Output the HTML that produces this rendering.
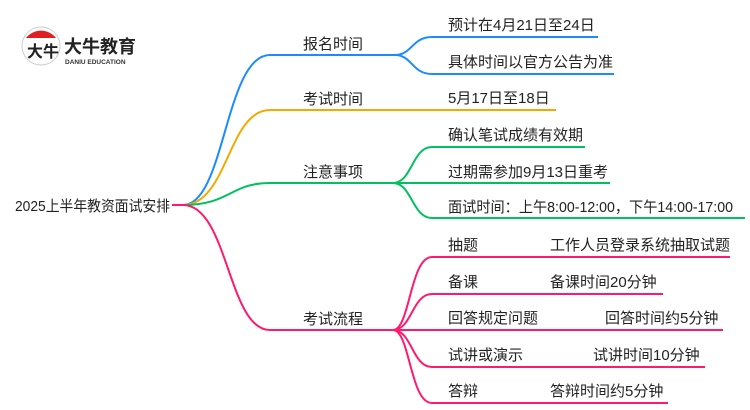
<!DOCTYPE html>
<html><head><meta charset="utf-8"><style>
html,body{margin:0;padding:0;background:#fff;}
svg{display:block;}
text{font-family:"Liberation Sans","Noto Sans CJK SC",sans-serif;font-size:15px;fill:#222;}
</style></head><body>
<svg width="750" height="410" viewBox="0 0 750 410" xmlns="http://www.w3.org/2000/svg">
<g fill="none" stroke-width="2">
<g stroke="#1a8cff">
<path d="M183,205 C225,205 225,55 270,55 L395,55"/>
<path d="M395,55 C412,55 412,37 432,37 L598,37"/>
<path d="M395,55 C412,55 412,74 432,74 L614,74"/>
</g>
<g stroke="#f5a800">
<path d="M183,205 C228,205 228,110 270,110 L556,110"/>
</g>
<g stroke="#00c060">
<path d="M183,205 C230,205 230,183 270,183 L393,183"/>
<path d="M393,183 C412,183 412,147 432,147 L585,147"/>
<path d="M393,183 L610,183"/>
<path d="M393,183 C412,183 412,218 432,218 L745,218"/>
</g>
<g stroke="#ff1a6e">
<path d="M172,205 L183,205"/>
<path d="M183,205 C228,205 228,330 270,330 L393,330"/>
<path d="M393,330 C410,330 410,257 432,257 L730,257"/>
<path d="M393,330 C412,330 412,294 432,294 L663,294"/>
<path d="M393,330 L723,330"/>
<path d="M393,330 C412,330 412,367 432,367 L705,367"/>
<path d="M393,330 C410,330 410,403 432,403 L668,403"/>
</g>
</g>
<circle cx="41" cy="46" r="19" fill="#fff" stroke="#ccc" stroke-width="1"/>
<path d="M26,38 A19,19 0 0 1 56,38 Z" fill="#e02020"/>
<text x="27" y="57" style="font-size:16px;font-weight:bold">大牛</text>
<text x="64" y="53" textLength="72" lengthAdjust="spacingAndGlyphs" style="font-size:18px;font-weight:bold;fill:#222">大牛教育</text>
<text x="65" y="64" style="font-size:6.5px;font-weight:bold;fill:#333">DANIU EDUCATION</text>
<text x="15" y="211" textLength="155" lengthAdjust="spacingAndGlyphs">2025上半年教资面试安排</text>
<text x="303" y="49">报名时间</text>
<text x="303" y="104">考试时间</text>
<text x="303" y="177">注意事项</text>
<text x="303" y="324">考试流程</text>
<text x="448" y="30">预计在4月21日至24日</text>
<text x="448" y="67">具体时间以官方公告为准</text>
<text x="448" y="103">5月17日至18日</text>
<text x="448" y="140">确认笔试成绩有效期</text>
<text x="448" y="177">过期需参加9月13日重考</text>
<text x="448" y="212" textLength="285" lengthAdjust="spacingAndGlyphs">面试时间：上午8:00-12:00，下午14:00-17:00</text>
<text x="448" y="250">抽题</text>
<text x="550" y="250">工作人员登录系统抽取试题</text>
<text x="448" y="287">备课</text>
<text x="550" y="287">备课时间20分钟</text>
<text x="448" y="323">回答规定问题</text>
<text x="605" y="323">回答时间约5分钟</text>
<text x="448" y="360">试讲或演示</text>
<text x="593" y="360">试讲时间10分钟</text>
<text x="448" y="396">答辩</text>
<text x="550" y="396">答辩时间约5分钟</text>
</svg>
</body></html>
